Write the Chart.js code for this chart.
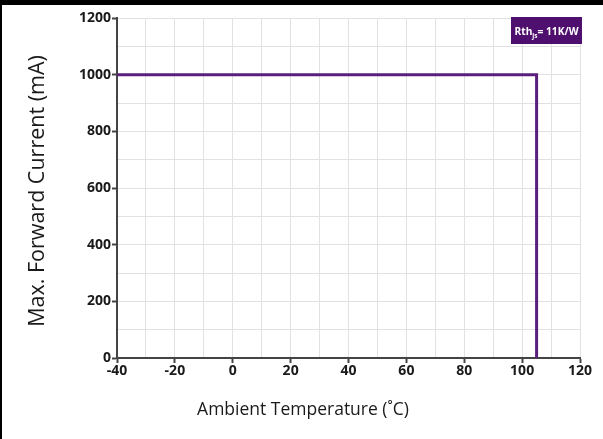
<!DOCTYPE html>
<html>
<head>
<meta charset="utf-8">
<script src="https://cdn.jsdelivr.net/npm/chart.js@4"></script>
<style>
  html, body { margin: 0; padding: 0; background: #fff; }
  #wrap {
    width: 601px; height: 434px;
    border-top: 5px solid #000; border-left: 2px solid #000;
    position: relative;
  }
</style>
</head>
<body>
<div id="wrap"><canvas id="chart" width="601" height="434"></canvas></div>
<script>
// derating curve: max forward current vs ambient temperature
const temps = [-40, 105, 105];
const currents = [1000, 1000, 0];

const xTickLabels = [-40, -20, 0, 20, 40, 60, 80, 100, 120];
const yTickLabels = [0, 200, 400, 600, 800, 1000, 1200];

const xTitle = 'Ambient Temperature (˚C)';
const yTitle = 'Max. Forward Current (mA)';

const lineColor = '#5a1f7c';
const gridColor = '#e2e2e2';
const axisColor = '#444444';
const textColor = '#1a1a1a';

// "Rth js = 11K/W" tag in the top right corner, plus both axis titles
const extras = {
  id: 'extras',
  afterDraw(chart) {
    const { ctx, chartArea } = chart;
    const x0 = chartArea.right - 69, y0 = chartArea.top - 1;
    const w = 71, h = 27;
    ctx.save();
    ctx.fillStyle = '#4f0f6e';
    ctx.fillRect(x0, y0, w, h);

    // measure the pieces, then squeeze them to fit the box
    ctx.font = 'bold 11px "Open Sans"';
    const wR = ctx.measureText('Rth').width;
    const wV = ctx.measureText('= 11K/W').width;
    ctx.font = 'bold 7px "Open Sans"';
    const wS = ctx.measureText('js').width;
    const total = wR + wS + wV;
    const sx = Math.min(1, 64 / total);

    ctx.translate(x0 + 3.5, y0 + 18);
    ctx.scale(sx, 1);
    ctx.fillStyle = '#fff';
    ctx.textBaseline = 'alphabetic';
    ctx.font = 'bold 11px "Open Sans"';
    ctx.fillText('Rth', 0, 0);
    ctx.font = 'bold 7px "Open Sans"';
    ctx.fillText('js', wR, 3);
    ctx.font = 'bold 11px "Open Sans"';
    ctx.fillText('= 11K/W', wR + wS, 0);
    ctx.restore();

    ctx.save();
    ctx.fillStyle = textColor;
    ctx.font = '17.5px "Open Sans"';
    ctx.textAlign = 'center';
    ctx.textBaseline = 'middle';
    ctx.fillText(xTitle, 301, 405);
    ctx.font = '21.5px "Open Sans"';
    ctx.translate(36, 186);
    ctx.rotate(-Math.PI / 2);
    ctx.fillText(yTitle, 0, 0);
    ctx.restore();
  }
};

const points = temps.map((t, i) => ({ x: t, y: currents[i] }));

new Chart(document.getElementById('chart'), {
  type: 'scatter',
  data: {
    datasets: [{
      data: points,
      showLine: true,
      borderColor: lineColor,
      borderWidth: 3,
      pointRadius: 0,
      fill: false,
      tension: 0
    }]
  },
  options: {
    responsive: false,
    animation: false,
    layout: { padding: { top: 13, right: 23, left: 0, bottom: 51 } },
    plugins: {
      legend: { display: false },
      tooltip: { enabled: false }
    },
    scales: {
      x: {
        type: 'linear',
        min: -40, max: 120,
        afterFit(scale) { scale.height = 30; },
        ticks: {
          stepSize: 10,
          autoSkip: false,
          maxRotation: 0,
          padding: 0,
          color: textColor,
          font: { family: 'Open Sans', size: 14, weight: 'bold' },
          callback: v => xTickLabels.includes(v) ? String(v) : ''
        },
        grid: {
          color: gridColor,
          tickLength: 5,
          tickColor: c => xTickLabels.includes(c.tick && c.tick.value) ? axisColor : 'rgba(0,0,0,0)',
          tickWidth: 2
        },
        border: { color: axisColor, width: 2 }
      },
      y: {
        type: 'linear',
        min: 0, max: 1200,
        afterFit(scale) { scale.width = 115; },
        ticks: {
          stepSize: 100,
          autoSkip: false,
          padding: 1,
          color: textColor,
          font: { family: 'Open Sans', size: 14, weight: 'bold' },
          callback: v => yTickLabels.includes(v) ? String(v) : ''
        },
        grid: {
          color: gridColor,
          tickLength: 5,
          tickColor: c => yTickLabels.includes(c.tick && c.tick.value) ? axisColor : 'rgba(0,0,0,0)',
          tickWidth: 2
        },
        border: { color: axisColor, width: 2 }
      }
    }
  },
  plugins: [extras]
});
</script>
</body>
</html>
